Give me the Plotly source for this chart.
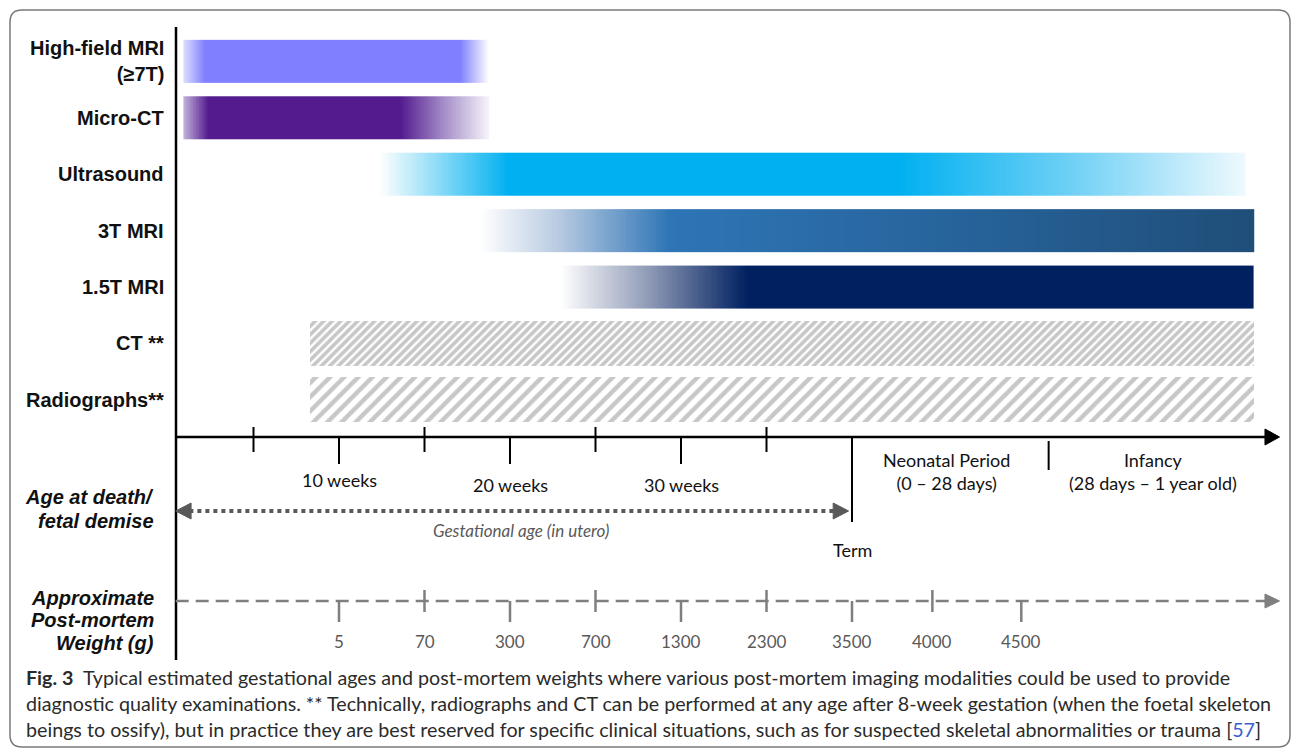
import numpy as np
import plotly.graph_objects as go

W, H = 1293, 751

# ---------------- data ----------------
modalities = ["High-field MRI<br>(≥7T)", "Micro-CT", "Ultrasound", "3T MRI", "1.5T MRI", "CT **", "Radiographs**"]
start_weeks = [0.9, 0.9, 12.3, 18.2, 22.9, 8.3, 8.3]
end_weeks = [18.8, 18.8, 63.0, 63.5, 63.5, 63.5, 63.5]

cross_ticks_weeks = [5, 15, 25, 35]
week_ticks = [10, 20, 30]
week_labels = ["10 weeks", "20 weeks", "30 weeks"]
term_week = 40
neonatal_end = 51.5
timeline_start = 0.45
timeline_end = 65.0
period_pos = [45.5, 57.6]
period_labels = ["Neonatal Period<br>(0 – 28 days)", "Infancy<br>(28 days – 1 year old)"]

weight_pos = [10, 15, 20, 25, 30, 35, 40, 44.7, 49.9]
weight_labels = ["5", "70", "300", "700", "1300", "2300", "3500", "4000", "4500"]

caption_lines = [
    "<b>Fig. 3</b>  Typical estimated gestational ages and post-mortem weights where various post-mortem imaging modalities could be used to provide",
    "diagnostic quality examinations. ** Technically, radiographs and CT can be performed at any age after 8-week gestation (when the foetal skeleton",
    "beings to ossify), but in practice they are best reserved for specific clinical situations, such as for suspected skeletal abnormalities or trauma [<span style='color:#3a5ecf'>57</span>]",
]

# ---------------- styles ----------------
PX0, PXW = 168.0, 17.1          # pixel of week 0, pixels per week
ROW0, ROWH = 61.3, 56.43        # pixel of row 0 centre, pixels per row
BAR_H = 0.76

grad_scales = {
    0: [[0, '#dcdcff'], [0.07, '#7f7fff'], [0.905, '#7f7fff'], [1, '#ffffff']],
    1: [[0, '#c2b0da'], [0.08, '#541b8f'], [0.71, '#541b8f'], [0.85, '#a38cc7'], [1, '#f7f4fa']],
    2: [[0, '#ffffff'], [0.15, '#00b0f0'], [0.6, '#00b0f0'], [0.8, '#6fd0f5'], [1, '#eef9fe']],
    3: [[0, '#ffffff'], [0.1, '#b9cbe2'], [0.245, '#2e75b6'], [0.6, '#27649c'], [1, '#1f4e79']],
    4: [[0, '#ffffff'], [0.13, '#8c98b5'], [0.27, '#002060'], [1, '#002060']],
}
hatch_style = {5: dict(size=6, solidity=0.6), 6: dict(size=10, solidity=0.45)}


def X(px):
    return px / W


def Y(py):
    return 1 - py / H


fig = go.Figure()

for i, (name, s, e) in enumerate(zip(modalities, start_weeks, end_weeks)):
    if i in grad_scales:
        n = 400
        xe = np.linspace(s, e, n + 1)
        z = [list(np.linspace(0, 1, n))]
        fig.add_trace(go.Heatmap(
            x=xe, y=[i - BAR_H / 2, i + BAR_H / 2], z=z, zmin=0, zmax=1,
            colorscale=grad_scales[i], showscale=False, hoverinfo='skip'))
    else:
        hs = hatch_style[i]
        fig.add_trace(go.Bar(
            orientation='h', base=[s], x=[e - s], y=[i], width=BAR_H + 0.04,
            marker=dict(color='white', line_width=0,
                        pattern=dict(shape='/', fgcolor='#8f8f8f', bgcolor='white',
                                     size=hs['size'], solidity=hs['solidity'])),
            hoverinfo='skip', showlegend=False))

shapes = []
# border
r = 12
x0, x1, y0, y1 = 10, 1290, 10, 747
path = (f"M {X(x0 + r)},{Y(y0)} L {X(x1 - r)},{Y(y0)} Q {X(x1)},{Y(y0)} {X(x1)},{Y(y0 + r)} "
        f"L {X(x1)},{Y(y1 - r)} Q {X(x1)},{Y(y1)} {X(x1 - r)},{Y(y1)} "
        f"L {X(x0 + r)},{Y(y1)} Q {X(x0)},{Y(y1)} {X(x0)},{Y(y1 - r)} "
        f"L {X(x0)},{Y(y0 + r)} Q {X(x0)},{Y(y0)} {X(x0 + r)},{Y(y0)} Z")
shapes.append(dict(type='path', xref='paper', yref='paper', path=path,
                   line=dict(color='#7a7a7a', width=1.5)))
# vertical axis
shapes.append(dict(type='line', xref='paper', yref='paper', x0=X(176), x1=X(176), y0=Y(27), y1=Y(660),
                   line=dict(color='black', width=2.5)))
# timeline axis
shapes.append(dict(type='line', xref='x', yref='paper', x0=timeline_start, x1=timeline_end - 0.7,
                   y0=Y(437), y1=Y(437), line=dict(color='black', width=2.5)))
shapes.append(dict(type='path', xref='x', yref='paper',
                   path=f"M {timeline_end - 0.85},{Y(429)} L {timeline_end},{Y(437)} L {timeline_end - 0.85},{Y(445)} Z",
                   fillcolor='black', line=dict(color='black', width=1)))
for w in cross_ticks_weeks:
    shapes.append(dict(type='line', xref='x', yref='paper', x0=w, x1=w, y0=Y(427), y1=Y(452),
                       line=dict(color='black', width=2)))
for w in week_ticks:
    shapes.append(dict(type='line', xref='x', yref='paper', x0=w, x1=w, y0=Y(437), y1=Y(464),
                       line=dict(color='black', width=2)))
shapes.append(dict(type='line', xref='x', yref='paper', x0=term_week, x1=term_week, y0=Y(437), y1=Y(522),
                   line=dict(color='black', width=2)))
shapes.append(dict(type='line', xref='x', yref='paper', x0=neonatal_end, x1=neonatal_end, y0=Y(441), y1=Y(470),
                   line=dict(color='black', width=2)))
# gestational dotted double arrow
ga_l, ga_r = timeline_start, term_week - 0.2
shapes.append(dict(type='line', xref='x', yref='paper', x0=ga_l + 0.8, x1=ga_r - 0.8, y0=Y(511), y1=Y(511),
                   line=dict(color='#595959', width=4, dash='dot')))
shapes.append(dict(type='path', xref='x', yref='paper',
                   path=f"M {ga_l},{Y(511)} L {ga_l + 0.9},{Y(503)} L {ga_l + 0.9},{Y(519)} Z",
                   fillcolor='#595959', line=dict(color='#595959', width=1)))
shapes.append(dict(type='path', xref='x', yref='paper',
                   path=f"M {ga_r},{Y(511)} L {ga_r - 0.9},{Y(503)} L {ga_r - 0.9},{Y(519)} Z",
                   fillcolor='#595959', line=dict(color='#595959', width=1)))
# weight axis
shapes.append(dict(type='line', xref='x', yref='paper', x0=timeline_start, x1=timeline_end - 0.8,
                   y0=Y(601), y1=Y(601), line=dict(color='#7f7f7f', width=2.5, dash='13px,7px')))
shapes.append(dict(type='path', xref='x', yref='paper',
                   path=f"M {timeline_end - 0.85},{Y(594)} L {timeline_end},{Y(601)} L {timeline_end - 0.85},{Y(608)} Z",
                   fillcolor='#7f7f7f', line=dict(color='#7f7f7f', width=1)))
for k, w in enumerate(weight_pos):
    if k % 2 == 0:
        ya, yb = 601, 622
    else:
        ya, yb = 590, 612
    shapes.append(dict(type='line', xref='x', yref='paper', x0=w, x1=w, y0=Y(ya), y1=Y(yb),
                       line=dict(color='#7f7f7f', width=2.5)))

ann = []
LBL = dict(family='Liberation Sans, Arial, sans-serif', size=20, color='#111111')
for i, name in enumerate(modalities):
    ann.append(dict(xref='paper', yref='y', x=X(166), y=i, text=f"<b>{name}</b>", showarrow=False,
                    xanchor='right', yanchor='middle', align='right', font=LBL))
for txt, py in [("Age at death/", 497), ("fetal demise", 521)]:
    ann.append(dict(xref='paper', yref='paper', x=X(156), y=Y(py), text=f"<b><i>{txt}</i></b>",
                    showarrow=False, xanchor='right', yanchor='middle', font=LBL))
for txt, py in [("Approximate", 598), ("Post-mortem", 620), ("Weight (g)", 643)]:
    ann.append(dict(xref='paper', yref='paper', x=X(156), y=Y(py), text=f"<b><i>{txt}</i></b>",
                    showarrow=False, xanchor='right', yanchor='middle', font=LBL))

TL = dict(family='Lato, sans-serif', size=18, color='#111111')
for w, lab, py in zip(week_ticks, week_labels, [480, 485, 485]):
    ann.append(dict(xref='x', yref='paper', x=w, y=Y(py), text=lab, showarrow=False,
                    xanchor='center', yanchor='middle', font=TL))
for w, lab in zip(period_pos, period_labels):
    ann.append(dict(xref='x', yref='paper', x=w, y=Y(471), text=lab, showarrow=False,
                    xanchor='center', yanchor='middle', font=TL))
ann.append(dict(xref='x', yref='paper', x=term_week, y=Y(550), text="Term", showarrow=False,
                xanchor='center', yanchor='middle', font=TL))
ann.append(dict(xref='paper', yref='paper', x=X(521), y=Y(530), text="<i>Gestational age (in utero)</i>",
                showarrow=False, xanchor='center', yanchor='middle',
                font=dict(family='Lato, sans-serif', size=17, color='#595959')))
for w, lab in zip(weight_pos, weight_labels):
    ann.append(dict(xref='x', yref='paper', x=w, y=Y(641), text=lab, showarrow=False,
                    xanchor='center', yanchor='middle',
                    font=dict(family='Lato, sans-serif', size=17, color='#595959')))
for k, line in enumerate(caption_lines):
    ann.append(dict(xref='paper', yref='paper', x=X(24), y=Y(677 + 26 * k), text=line, showarrow=False,
                    xanchor='left', yanchor='middle',
                    font=dict(family='Lato, sans-serif', size=19.7, color='#2b2b2b')))

fig.update_layout(
    width=W, height=H, margin=dict(l=0, r=0, t=0, b=0),
    paper_bgcolor='white', plot_bgcolor='white', showlegend=False,
    xaxis=dict(range=[-PX0 / PXW, (W - PX0) / PXW], visible=False, fixedrange=True),
    yaxis=dict(range=[(H - ROW0) / ROWH, -ROW0 / ROWH], visible=False, fixedrange=True),
    shapes=shapes, annotations=ann, bargap=0,
)

fig.write_html("out.html", config={'displayModeBar': False},
               post_script="document.body.style.margin='0';document.body.style.overflow='hidden';")
